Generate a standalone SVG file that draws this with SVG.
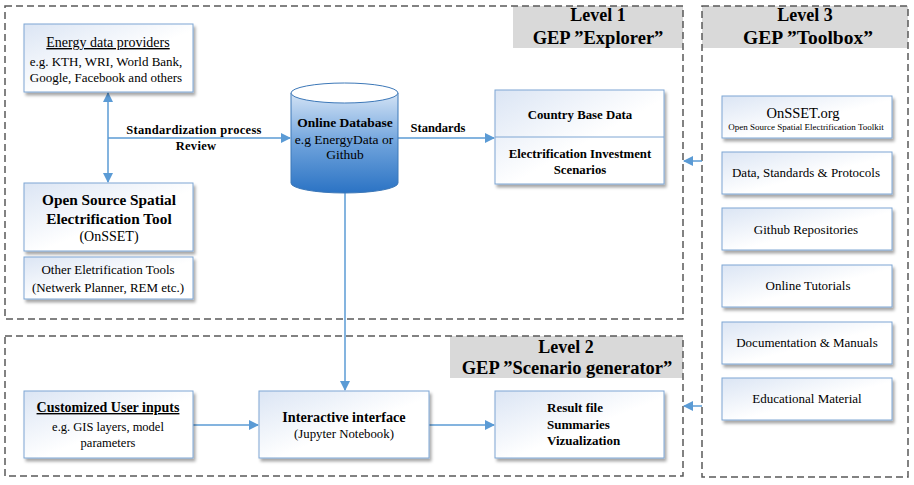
<svg xmlns="http://www.w3.org/2000/svg" width="914" height="485" viewBox="0 0 914 485">
<defs>
<linearGradient id="boxg" x1="0" y1="0" x2="1" y2="1">
<stop offset="0" stop-color="#dbe5f4"/>
<stop offset="0.55" stop-color="#ffffff"/>
<stop offset="1" stop-color="#ffffff"/>
</linearGradient>
<linearGradient id="cylg" x1="0" y1="0" x2="0" y2="1">
<stop offset="0" stop-color="#d3e3f5"/>
<stop offset="0.5" stop-color="#6fa3dc"/>
<stop offset="1" stop-color="#2b73c4"/>
</linearGradient>
<filter id="sh" x="-10%" y="-10%" width="130%" height="140%">
<feDropShadow dx="2" dy="3" stdDeviation="1.5" flood-color="#000" flood-opacity="0.35"/>
</filter>
<marker id="ah" viewBox="0 0 10 10" refX="9" refY="5" markerWidth="10" markerHeight="10" markerUnits="userSpaceOnUse" orient="auto-start-reverse">
<path d="M0,0 L10,5 L0,10 z" fill="#5b9bd5"/>
</marker>
<style>
.frame{fill:none;stroke:#595959;stroke-width:1.5;stroke-dasharray:7 4}
.lab{fill:#d9d9d9}
.box{fill:url(#boxg);stroke:#7ea6d3;stroke-width:1;filter:url(#sh)}
.conn{fill:none;stroke:#5b9bd5;stroke-width:1.5}
text{font-family:"Liberation Serif","Times New Roman",serif;fill:#000;text-anchor:middle}
.lv{font-size:18.5px;font-weight:bold}
.b{font-weight:bold}
.l{text-anchor:start}
.r{font-size:13px}
</style>
</defs>

<g id="frames">
<rect class="lab" x="513" y="6" width="170" height="42"/>
<rect class="frame" x="5" y="6" width="678" height="313"/>
<text class="lv" x="598" y="21" style="font-size:18px">Level 1</text>
<text class="lv" x="598" y="44">GEP ”Explorer”</text>

<rect class="lab" x="702" y="6" width="206" height="42"/>
<rect class="frame" x="702" y="6" width="206" height="471"/>
<text class="lv" x="805" y="21" style="font-size:18px">Level 3</text>
<text class="lv" x="808" y="44" style="font-size:19.5px">GEP ”Toolbox”</text>

<rect class="lab" x="450" y="336" width="233" height="42"/>
<rect class="frame" x="5" y="336" width="678" height="140"/>
<text class="lv" x="566" y="353" style="font-size:18px">Level 2</text>
<text class="lv" x="567" y="374">GEP ”Scenario generator”</text>
</g>

<g id="connectors">
<line class="conn" x1="108" y1="93" x2="108" y2="182" marker-start="url(#ah)" marker-end="url(#ah)"/>
<line class="conn" x1="108" y1="138" x2="290" y2="138" marker-end="url(#ah)"/>
<text class="b" x="194" y="134" font-size="12.5" letter-spacing="0.3">Standardization process</text>
<text class="b" x="196" y="150" font-size="12.5" letter-spacing="0.3">Review</text>
<line class="conn" x1="398" y1="138" x2="494" y2="138" marker-end="url(#ah)"/>
<text class="b" x="438" y="132" font-size="12.5">Standards</text>
<line class="conn" x1="345" y1="193" x2="345" y2="390" marker-end="url(#ah)"/>
<line class="conn" x1="193" y1="425" x2="258" y2="425" marker-end="url(#ah)"/>
<line class="conn" x1="429" y1="425" x2="494" y2="425" marker-end="url(#ah)"/>
<line class="conn" x1="702" y1="161" x2="684" y2="161" marker-end="url(#ah)"/>
<line class="conn" x1="702" y1="406" x2="684" y2="406" marker-end="url(#ah)"/>
</g>

<g id="energy-providers">
<rect class="box" x="24" y="24" width="169" height="68"/>
<text x="108" y="47" font-size="14" text-decoration="underline">Energy data providers</text>
<text x="106" y="66" font-size="13">e.g. KTH, WRI, World Bank,</text>
<text x="106" y="82" font-size="13">Google, Facebook and others</text>
</g>

<g id="onsset">
<rect class="box" x="24" y="183" width="169" height="68"/>
<text class="b" x="109" y="205" font-size="15.3">Open Source Spatial</text>
<text class="b" x="109" y="224" font-size="15.3">Electrification Tool</text>
<text x="109" y="241" font-size="14">(OnSSET)</text>
</g>

<g id="other-tools">
<rect class="box" x="24" y="257" width="169" height="42"/>
<text x="108" y="274" font-size="13">Other Eletrification Tools</text>
<text x="108" y="292" font-size="13">(Netwerk Planner, REM etc.)</text>
</g>

<g id="online-database">
<path d="M291,93 L291,183 A53.5,10 0 0 0 398,183 L398,93 Z" fill="url(#cylg)" stroke="#3d78b8" stroke-width="1"/>
<ellipse cx="344.5" cy="93" rx="53.5" ry="10" fill="#ffffff" stroke="#3d78b8" stroke-width="1"/>
<text class="b" x="345" y="127" font-size="13.5">Online Database</text>
<text x="344" y="144" font-size="13.5">e.g EnergyData or</text>
<text x="345" y="159" font-size="13.5">Github</text>
</g>

<g id="country-data">
<rect class="box" x="495" y="90" width="169" height="94"/>
<line x1="495" y1="137" x2="664" y2="137" stroke="#7ea6d3" stroke-width="1"/>
<text class="b" x="580" y="119" font-size="12.8">Country Base Data</text>
<text class="b" x="580" y="158" font-size="12.8">Electrification Investment</text>
<text class="b" x="580" y="174" font-size="12.8">Scenarios</text>
</g>

<g id="custom-inputs">
<rect class="box" x="24" y="391" width="169" height="67"/>
<text class="b" x="108" y="412" font-size="14" text-decoration="underline">Customized User inputs</text>
<text x="108" y="431" font-size="12.5">e.g. GIS layers, model</text>
<text x="108" y="447" font-size="12.5">parameters</text>
</g>

<g id="interactive">
<rect class="box" x="259" y="391" width="170" height="67"/>
<text class="b" x="344" y="422" font-size="14.2">Interactive interface</text>
<text x="344" y="438" font-size="12.8">(Jupyter Notebook)</text>
</g>

<g id="results">
<rect class="box" x="495" y="391" width="169" height="67"/>
<text class="b l" x="547" y="412" font-size="13">Result file</text>
<text class="b l" x="547" y="429" font-size="13">Summaries</text>
<text class="b l" x="547" y="445" font-size="13">Vizualization</text>
</g>

<g id="onsset-org">
<rect class="box" x="722" y="96" width="170" height="42"/>
<text x="803" y="118" font-size="14.5">OnSSET.org</text>
<text x="806" y="130" font-size="9">Open Source Spatial Electrification Toolkit</text>
</g>
<g id="data-standards">
<rect class="box" x="722" y="152" width="170" height="42"/>
<text class="r" x="806" y="177">Data, Standards &amp; Protocols</text>
</g>
<g id="github">
<rect class="box" x="722" y="208" width="170" height="42"/>
<text class="r" x="806" y="234">Github Repositories</text>
</g>
<g id="tutorials">
<rect class="box" x="722" y="265" width="170" height="42"/>
<text class="r" x="808" y="290">Online Tutorials</text>
</g>
<g id="documentation">
<rect class="box" x="722" y="322" width="170" height="42"/>
<text class="r" x="807" y="347">Documentation &amp; Manuals</text>
</g>
<g id="educational">
<rect class="box" x="722" y="378" width="170" height="42"/>
<text class="r" x="807" y="403">Educational Material</text>
</g>
</svg>
